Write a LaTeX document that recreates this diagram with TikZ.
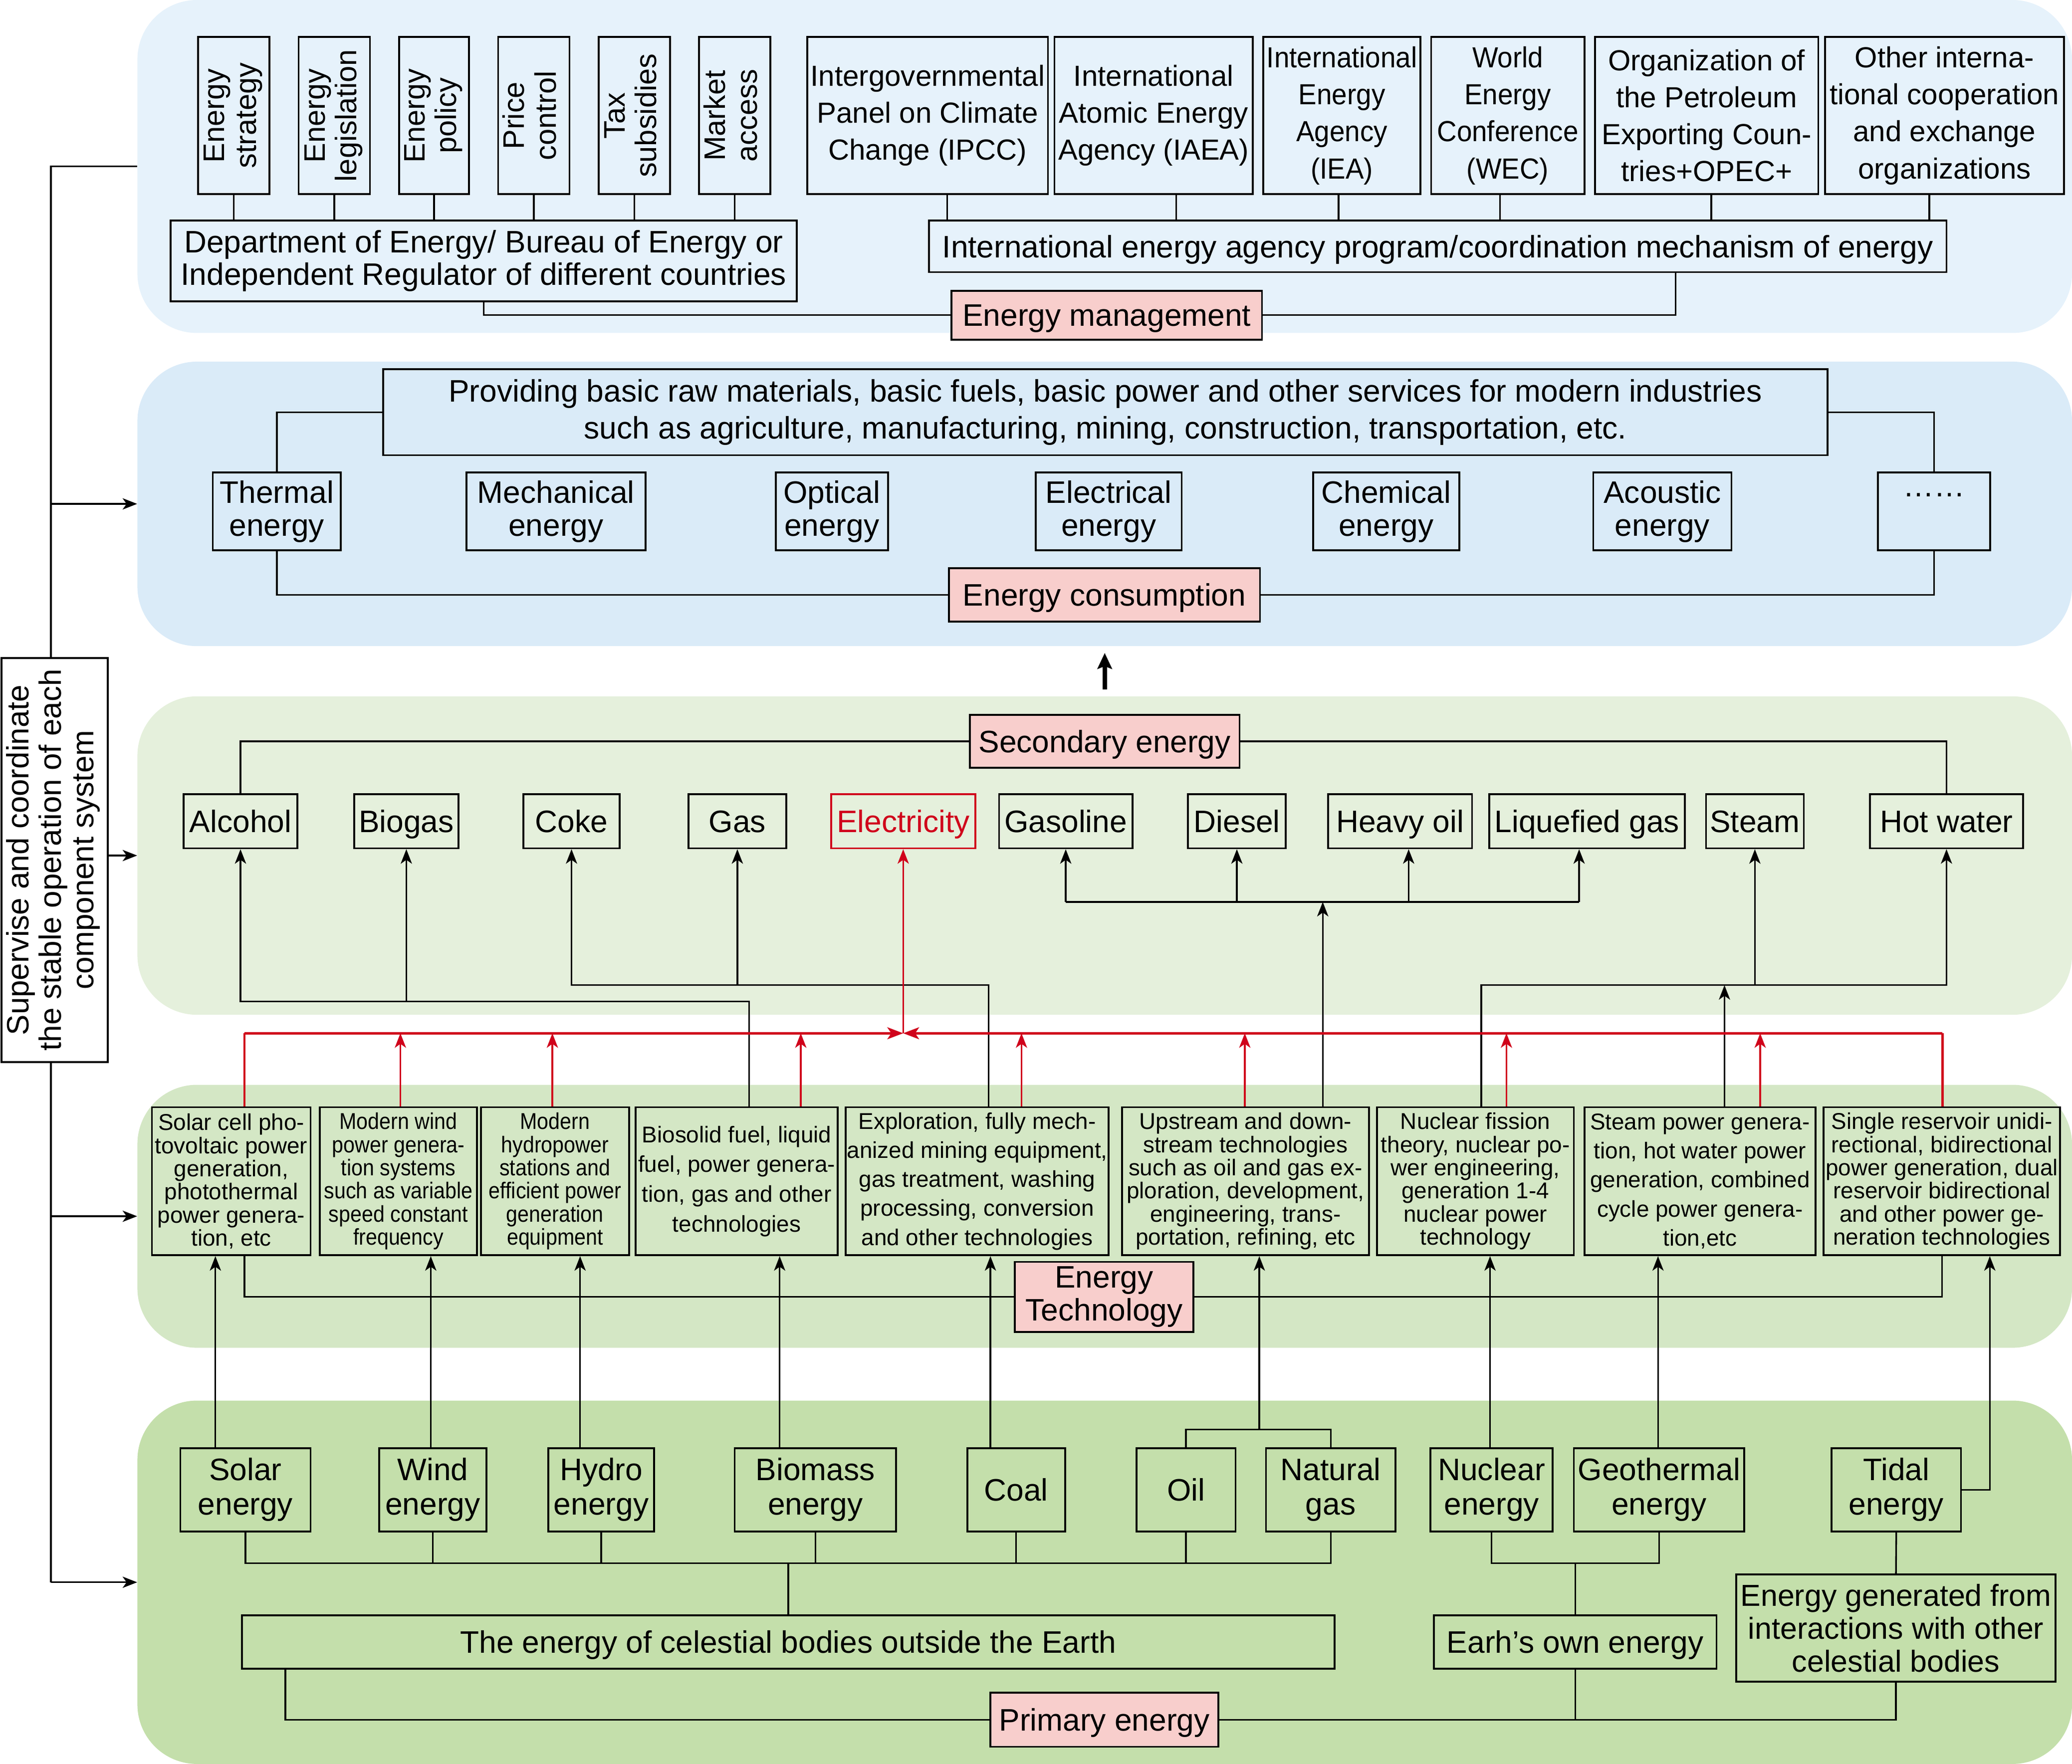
\documentclass[tikz,border=0pt]{standalone}
\usepackage{fontspec}
\setmainfont{Liberation Sans}
\newfontfamily\nfont[FakeStretch=0.9]{Liberation Sans}
\newfontfamily\cfont[FakeStretch=0.94]{Liberation Sans}
\usepackage{graphicx}
\usetikzlibrary{arrows.meta}
\definecolor{bandA}{HTML}{E6F2FB}
\definecolor{bandB}{HTML}{DAEBF8}
\definecolor{bandC}{HTML}{E5F0DC}
\definecolor{bandD}{HTML}{D4E7C5}
\definecolor{bandE}{HTML}{C4DFAB}
\definecolor{pinkbox}{HTML}{F8CECC}
\definecolor{redline}{HTML}{D0021B}
\newcommand\vt[1]{\rotatebox{90}{\begin{tabular}{@{}c@{}}#1\end{tabular}}}
\tikzset{
  band/.style={draw=none, rounded corners=45pt, inner sep=0pt},
  bx/.style={draw, line width=1.4pt, inner sep=0pt, align=center, font=\fontsize{23.5}{25}\selectfont},
  one/.style={text height=16.8pt, text depth=0pt},
  vb/.style={bx, minimum width=54pt, minimum height=119pt, font=\fontsize{22.5}{24}\selectfont},
  tr/.style={bx, minimum height=119pt, font=\fontsize{22}{28}\selectfont},
  trc/.style={tr, font=\cfont\fontsize{22}{28}\selectfont},
  pk/.style={bx, fill=pinkbox},
  tbsix/.style={bx, minimum height=112pt, font=\fontsize{17.3}{17.5}\selectfont},
  tbsixn/.style={bx, minimum height=112pt, font=\nfont\fontsize{17.3}{17.5}\selectfont},
  tbfive/.style={bx, minimum height=112pt, font=\fontsize{17.3}{22}\selectfont},
  tbfour/.style={bx, minimum height=112pt, font=\fontsize{17.3}{22.5}\selectfont},
  con/.style={line width=1.25pt},
  arr/.style={con, -{Stealth[length=11pt,width=8.5pt,inset=3pt]}},
  rcon/.style={line width=1.6pt, draw=redline},
  rarr/.style={line width=1.25pt, draw=redline, -{Stealth[length=11pt,width=8.5pt,inset=3pt]}},
  rbarr/.style={line width=1.8pt, draw=redline, -{Stealth[length=12pt,width=9pt,inset=3pt]}},
}
\begin{document}
\begin{tikzpicture}[x=1pt,y=1pt]
\useasboundingbox (0,0) rectangle (1568,-1335);
% ---------------- background bands
\node[band, fill=bandA, minimum width=1464pt, minimum height=252pt] (b1) at (836,-126) {};
\node[band, fill=bandB, minimum width=1464pt, minimum height=215.3pt] (b2) at (836,-381.35) {};
\node[band, fill=bandC, minimum width=1464pt, minimum height=241pt] (b3) at (836,-647.5) {};
\node[band, fill=bandD, minimum width=1464pt, minimum height=199pt] (b4) at (836,-920.5) {};
\node[band, fill=bandE, minimum width=1464pt, minimum height=275pt] (b5) at (836,-1197.5) {};

% ---------------- helper coordinates
\coordinate (lx) at (38.5,0);
\coordinate (xa1) at (716.7,0); \coordinate (xa2) at (890,0); \coordinate (xa3) at (1013,0);
\coordinate (xa4) at (1135,0); \coordinate (xa5) at (1295,0); \coordinate (xa6) at (1460,0);
\coordinate (xa7) at (1268,0);
\coordinate (xbio) at (567,0); \coordinate (xexp) at (748,0); \coordinate (xup) at (1001,0);
\coordinate (xnuc) at (1121,0); \coordinate (xst) at (1305,0); \coordinate (xho) at (1066,0);
\coordinate (xlg) at (1195,0);
\coordinate (xr1) at (185,0); \coordinate (xr2) at (303,0); \coordinate (xr3) at (418,0);
\coordinate (xr4) at (606,0); \coordinate (xr5) at (773,0); \coordinate (xr6) at (942,0);
\coordinate (xr7) at (1140,0); \coordinate (xr8) at (1332,0); \coordinate (xr9) at (1470,0);
\coordinate (xs1) at (163,0); \coordinate (xs2) at (326,0); \coordinate (xs3) at (439,0);
\coordinate (xs4) at (590,0); \coordinate (xs5) at (749.5,0); \coordinate (xs6) at (953,0);
\coordinate (xs7) at (1127.6,0); \coordinate (xs8) at (1254.7,0); \coordinate (xs9) at (1505.8,0);
\coordinate (xc) at (216,0);
\coordinate (barA) at (0,-758); \coordinate (barB) at (0,-745.6); \coordinate (barC) at (0,-682.6);
\coordinate (rbus) at (0,-782); \coordinate (brk) at (0,-1082); \coordinate (bbus) at (0,-1183);

% ---------------- left supervising box
\node[bx, fill=white, minimum width=80.6pt, minimum height=305.7pt, font=\fontsize{23.4}{24.6}\selectfont] (sup) at (41.3,-650.85)
  {\vt{Supervise and coordinate\\the stable operation of each\\component system}};
\draw[con] (b1.west) -- (b1.west -| lx) -- (lx |- sup.north);
\draw[con] (lx |- sup.south) -- (b5.west -| lx);
\draw[arr] (b2.west -| lx) -- (b2.west);
\draw[arr] (sup.east |- b3.west) -- (b3.west);
\draw[arr] (b4.west -| lx) -- (b4.west);
\draw[arr] (b5.west -| lx) -- (b5.west);

% ---------------- band 1: energy management
\node[vb] (es) at (177,-87.5) {\vt{Energy\\strategy}};
\node[vb] (el) at (253,-87.5) {\vt{Energy\\legislation}};
\node[vb, minimum width=53pt] (pol) at (328.5,-87.5) {\vt{Energy\\policy}};
\node[vb] (pc) at (404,-87.5) {\vt{Price\\control}};
\node[vb] (ts) at (480,-87.5) {\vt{Tax\\subsidies}};
\node[vb] (ma) at (556,-87.5) {\vt{Market\\access}};
\node[bx, minimum width=474pt, minimum height=61pt, font=\fontsize{23.5}{24.5}\selectfont] (dept) at (366,-197.5)
  {Department of Energy/ Bureau of Energy or\\Independent Regulator of different countries};
\node[tr, minimum width=182pt] (ipcc) at (702,-87.5) {Intergovernmental\\Panel on Climate\\Change (IPCC)};
\node[tr, minimum width=150pt] (iaea) at (873,-87.5) {International\\Atomic Energy\\Agency (IAEA)};
\node[trc, minimum width=119pt] (iea) at (1015.5,-87.5) {International\\Energy\\Agency\\(IEA)};
\node[trc, minimum width=116pt] (wec) at (1141,-87.5) {World\\Energy\\Conference\\(WEC)};
\node[tr, minimum width=169pt] (opec) at (1291.5,-87.5) {Organization of\\the Petroleum\\Exporting Coun-\\tries+OPEC+};
\node[tr, minimum width=181pt] (oth) at (1471.5,-87.5) {Other interna-\\tional cooperation\\and exchange\\organizations};
\node[bx, one, minimum width=770pt, minimum height=39pt] (prog) at (1088,-186.5)
  {International energy agency program/coordination mechanism of energy};
\node[pk, one, minimum width=235pt, minimum height=37pt] (mgmt) at (837.5,-238.5) {Energy management};

\foreach \n in {es,el,pol,pc,ts,ma} \draw[con] (\n.south) -- (\n.south |- dept.north);
\draw[con] (xa1 |- ipcc.south) -- (xa1 |- prog.north);
\draw[con] (xa2 |- iaea.south) -- (xa2 |- prog.north);
\draw[con] (xa3 |- iea.south) -- (xa3 |- prog.north);
\draw[con] (xa4 |- wec.south) -- (xa4 |- prog.north);
\draw[con] (xa5 |- opec.south) -- (xa5 |- prog.north);
\draw[con] (xa6 |- oth.south) -- (xa6 |- prog.north);
\draw[con] (dept.south) |- (mgmt.west);
\draw[con] (mgmt.east) -- (mgmt.east -| xa7) -- (xa7 |- prog.south);

% ---------------- band 2: energy consumption
\node[bx, minimum width=1093pt, minimum height=65pt, font=\fontsize{23.5}{28}\selectfont] (prov) at (836.5,-312)
  {Providing basic raw materials, basic fuels, basic power and other services for modern industries\\such as agriculture, manufacturing, mining, construction, transportation, etc.};
\node[bx, minimum width=97pt, minimum height=59pt] (th) at (209.5,-387) {Thermal\\energy};
\node[bx, minimum width=135.5pt, minimum height=59pt] (mech) at (420.75,-387) {Mechanical\\energy};
\node[bx, minimum width=85pt, minimum height=59pt] (opt) at (629.5,-387) {Optical\\energy};
\node[bx, minimum width=110.5pt, minimum height=59pt] (elc) at (839,-387) {Electrical\\energy};
\node[bx, minimum width=110.5pt, minimum height=59pt] (chem) at (1049,-387) {Chemical\\energy};
\node[bx, minimum width=104.5pt, minimum height=59pt] (acou) at (1258,-387) {Acoustic\\energy};
\node[bx, minimum width=85pt, minimum height=59pt] (dots) at (1463.5,-387) {……\\\mbox{}};
\node[pk, one, minimum width=235.5pt, minimum height=40.5pt] (cons) at (835.75,-450.25) {Energy consumption};
\draw[con] (prov.west) -| (th.north);
\draw[con] (prov.east) -| (dots.north);
\draw[con] (th.south) |- (cons.west);
\draw[con] (cons.east) -| (dots.south);

\draw[line width=3.5pt, -{Stealth[length=12pt,width=11pt,inset=2pt]}] ([yshift=5pt]b3.north) -- ([yshift=-5pt]b2.south);

% ---------------- band 3: secondary energy
\node[pk, one, minimum width=204pt, minimum height=40pt] (sec) at (836,-561) {Secondary energy};
\node[bx, one, minimum width=86pt, minimum height=41pt] (alc) at (182,-621.5) {Alcohol};
\node[bx, one, minimum width=79pt, minimum height=41pt] (bio) at (307.5,-621.5) {Biogas};
\node[bx, one, minimum width=73pt, minimum height=41pt] (coke) at (432.5,-621.5) {Coke};
\node[bx, one, minimum width=74pt, minimum height=41pt] (gas) at (558,-621.5) {Gas};
\node[bx, one, draw=redline, text=redline, minimum width=109pt, minimum height=41pt] (elec) at (683.5,-621.5) {Electricity};
\node[bx, one, minimum width=101pt, minimum height=41pt] (gsl) at (806.5,-621.5) {Gasoline};
\node[bx, one, minimum width=74pt, minimum height=41pt] (dsl) at (936,-621.5) {Diesel};
\node[bx, one, minimum width=109pt, minimum height=41pt] (hoil) at (1059.5,-621.5) {Heavy oil};
\node[bx, one, minimum width=148pt, minimum height=41pt] (lgas) at (1201,-621.5) {Liquefied gas};
\node[bx, one, minimum width=74pt, minimum height=41pt] (steam) at (1328,-621.5) {Steam};
\node[bx, one, minimum width=116pt, minimum height=41pt] (hw) at (1473,-621.5) {Hot water};
\draw[con] (sec.west) -| (alc.north);
\draw[con] (sec.east) -| (hw.north);

% ---------------- band 4: energy technology
\node[tbsix, minimum width=120pt] (tsol) at (175,-894) {Solar cell pho-\\tovoltaic power\\generation,\\photothermal\\power genera-\\tion, etc};
\node[tbsixn, minimum width=119pt] (twind) at (301.5,-894) {Modern wind\\power genera-\\tion systems\\such as variable\\speed constant\\frequency};
\node[tbsixn, minimum width=112pt] (thyd) at (420,-894) {Modern\\hydropower\\stations and\\efficient power\\generation\\equipment};
\node[tbfour, minimum width=153pt] (tbio) at (557.5,-894) {Biosolid fuel, liquid\\fuel, power genera-\\tion, gas and other\\technologies};
\node[tbfive, minimum width=199pt] (texp) at (739.5,-894) {Exploration, fully mech-\\anized mining equipment,\\gas treatment, washing\\processing, conversion\\and other technologies};
\node[tbsix, minimum width=187pt] (tup) at (942.5,-894) {Upstream and down-\\stream technologies\\such as oil and gas ex-\\ploration, development,\\engineering, trans-\\portation, refining, etc};
\node[tbsix, minimum width=149pt] (tnuc) at (1116.5,-894) {Nuclear fission\\theory, nuclear po-\\wer engineering,\\generation 1-4\\nuclear power\\technology};
\node[tbfive, minimum width=175pt] (tstm) at (1286.5,-894) {Steam power genera-\\tion, hot water power\\generation, combined\\cycle power genera-\\tion,etc};
\node[tbsix, minimum width=179pt] (ttid) at (1469.5,-894) {Single reservoir unidi-\\rectional, bidirectional\\power generation, dual\\reservoir bidirectional\\and other power ge-\\neration technologies};
\node[pk, minimum width=135pt, minimum height=53pt] (etech) at (835.5,-981.5) {Energy\\Technology};
\draw[con] (xr1 |- tsol.south) |- (etech.west);
\draw[con] (etech.east) -| (ttid.south);

% black connectors technology -> secondary
\draw[arr] (xbio |- tbio.north) -- (xbio |- barA) -- (alc.south |- barA) -- (alc.south);
\draw[arr] (bio.south |- barA) -- (bio.south);
\draw[arr] (xexp |- texp.north) -- (xexp |- barB) -- (coke.south |- barB) -- (coke.south);
\draw[arr] (gas.south |- barB) -- (gas.south);
\draw[arr] (xup |- tup.north) -- (xup |- barC);
\draw[con] (gsl.south |- barC) -- (xlg |- barC);
\draw[arr] (gsl.south |- barC) -- (gsl.south);
\draw[arr] (dsl.south |- barC) -- (dsl.south);
\draw[arr] (xho |- barC) -- (xho |- hoil.south);
\draw[arr] (xlg |- barC) -- (xlg |- lgas.south);
\draw[arr] (xnuc |- tnuc.north) -- (xnuc |- barB) -- (hw.south |- barB) -- (hw.south);
\draw[arr] (steam.south |- barB) -- (steam.south);
\draw[arr] (xst |- tstm.north) -- (xst |- barB);

% red connectors technology -> electricity
\draw[rcon] (xr1 |- tsol.north) -- (xr1 |- rbus);
\draw[rcon] (xr9 |- ttid.north) -- (xr9 |- rbus);
\draw[rbarr] (xr1 |- rbus) -- (elec.south |- rbus);
\draw[rbarr] (xr9 |- rbus) -- (elec.south |- rbus);
\draw[rarr] (elec.south |- rbus) -- (elec.south);
\draw[rarr] (xr2 |- twind.north) -- (xr2 |- rbus);
\draw[rarr] (xr3 |- thyd.north) -- (xr3 |- rbus);
\draw[rarr] (xr4 |- tbio.north) -- (xr4 |- rbus);
\draw[rarr] (xr5 |- texp.north) -- (xr5 |- rbus);
\draw[rarr] (xr6 |- tup.north) -- (xr6 |- rbus);
\draw[rarr] (xr7 |- tnuc.north) -- (xr7 |- rbus);
\draw[rarr] (xr8 |- tstm.north) -- (xr8 |- rbus);

% ---------------- band 5: primary energy
\node[bx, minimum width=98.5pt, minimum height=63pt, font=\fontsize{23.5}{26}\selectfont] (ssol) at (185.75,-1127.5) {Solar\\energy};
\node[bx, minimum width=81pt, minimum height=63pt, font=\fontsize{23.5}{26}\selectfont] (swnd) at (327.5,-1127.5) {Wind\\energy};
\node[bx, minimum width=80pt, minimum height=63pt, font=\fontsize{23.5}{26}\selectfont] (shyd) at (455,-1127.5) {Hydro\\energy};
\node[bx, minimum width=122pt, minimum height=63pt, font=\fontsize{23.5}{26}\selectfont] (sbio) at (617,-1127.5) {Biomass\\energy};
\node[bx, one, minimum width=74pt, minimum height=63pt] (scoal) at (769,-1127.5) {Coal};
\node[bx, one, minimum width=75pt, minimum height=63pt] (soil) at (897.5,-1127.5) {Oil};
\node[bx, minimum width=98pt, minimum height=63pt, font=\fontsize{23.5}{26}\selectfont] (sgas) at (1007,-1127.5) {Natural\\gas};
\node[bx, minimum width=92.5pt, minimum height=63pt, font=\fontsize{23.5}{26}\selectfont] (snuc) at (1128.75,-1127.5) {Nuclear\\energy};
\node[bx, minimum width=129pt, minimum height=63pt, font=\fontsize{23.5}{26}\selectfont] (sgeo) at (1255.5,-1127.5) {Geothermal\\energy};
\node[bx, minimum width=98pt, minimum height=63pt, font=\fontsize{23.5}{26}\selectfont] (stid) at (1435,-1127.5) {Tidal\\energy};
\node[bx, one, minimum width=827pt, minimum height=40.5pt] (celes) at (596.5,-1242.75) {The energy of celestial bodies outside the Earth};
\node[bx, one, minimum width=214pt, minimum height=40.5pt] (earth) at (1192,-1242.75) {Earh’s own energy};
\node[bx, minimum width=241.5pt, minimum height=81pt, font=\fontsize{23}{25}\selectfont] (egen) at (1434.75,-1232.15) {Energy generated from\\interactions with other\\celestial bodies};
\node[pk, one, minimum width=172.5pt, minimum height=41pt] (prim) at (835.75,-1301.5) {Primary energy};

% sources -> technology
\draw[arr] (xs1 |- ssol.north) -- (xs1 |- tsol.south);
\draw[arr] (xs2 |- swnd.north) -- (xs2 |- twind.south);
\draw[arr] (xs3 |- shyd.north) -- (xs3 |- thyd.south);
\draw[arr] (xs4 |- sbio.north) -- (xs4 |- tbio.south);
\draw[arr] (xs5 |- scoal.north) -- (xs5 |- texp.south);
\draw[con] (soil.north) |- (sgas.north |- brk) -- (sgas.north);
\draw[arr] (xs6 |- brk) -- (xs6 |- tup.south);
\draw[arr] (xs7 |- snuc.north) -- (xs7 |- tnuc.south);
\draw[arr] (xs8 |- sgeo.north) -- (xs8 |- tstm.south);
\draw[arr] (stid.east) -| (xs9 |- ttid.south);

% primary hierarchy
\draw[con] (ssol.south) |- (sgas.south |- bbus) -- (sgas.south);
\foreach \n in {swnd,shyd,sbio,scoal,soil} \draw[con] (\n.south) -- (\n.south |- bbus);
\draw[con] (celes.north) -- (celes.north |- bbus);
\draw[con] (snuc.south) |- (sgeo.south |- bbus) -- (sgeo.south);
\draw[con] (earth.north) -- (earth.north |- bbus);
\draw[con] (stid.south) -- (egen.north);
\draw[con] (xc |- celes.south) |- (prim.west);
\draw[con] (prim.east) -| (egen.south);
\draw[con] (earth.south) -- (earth.south |- prim.east);
\end{tikzpicture}
\end{document}
